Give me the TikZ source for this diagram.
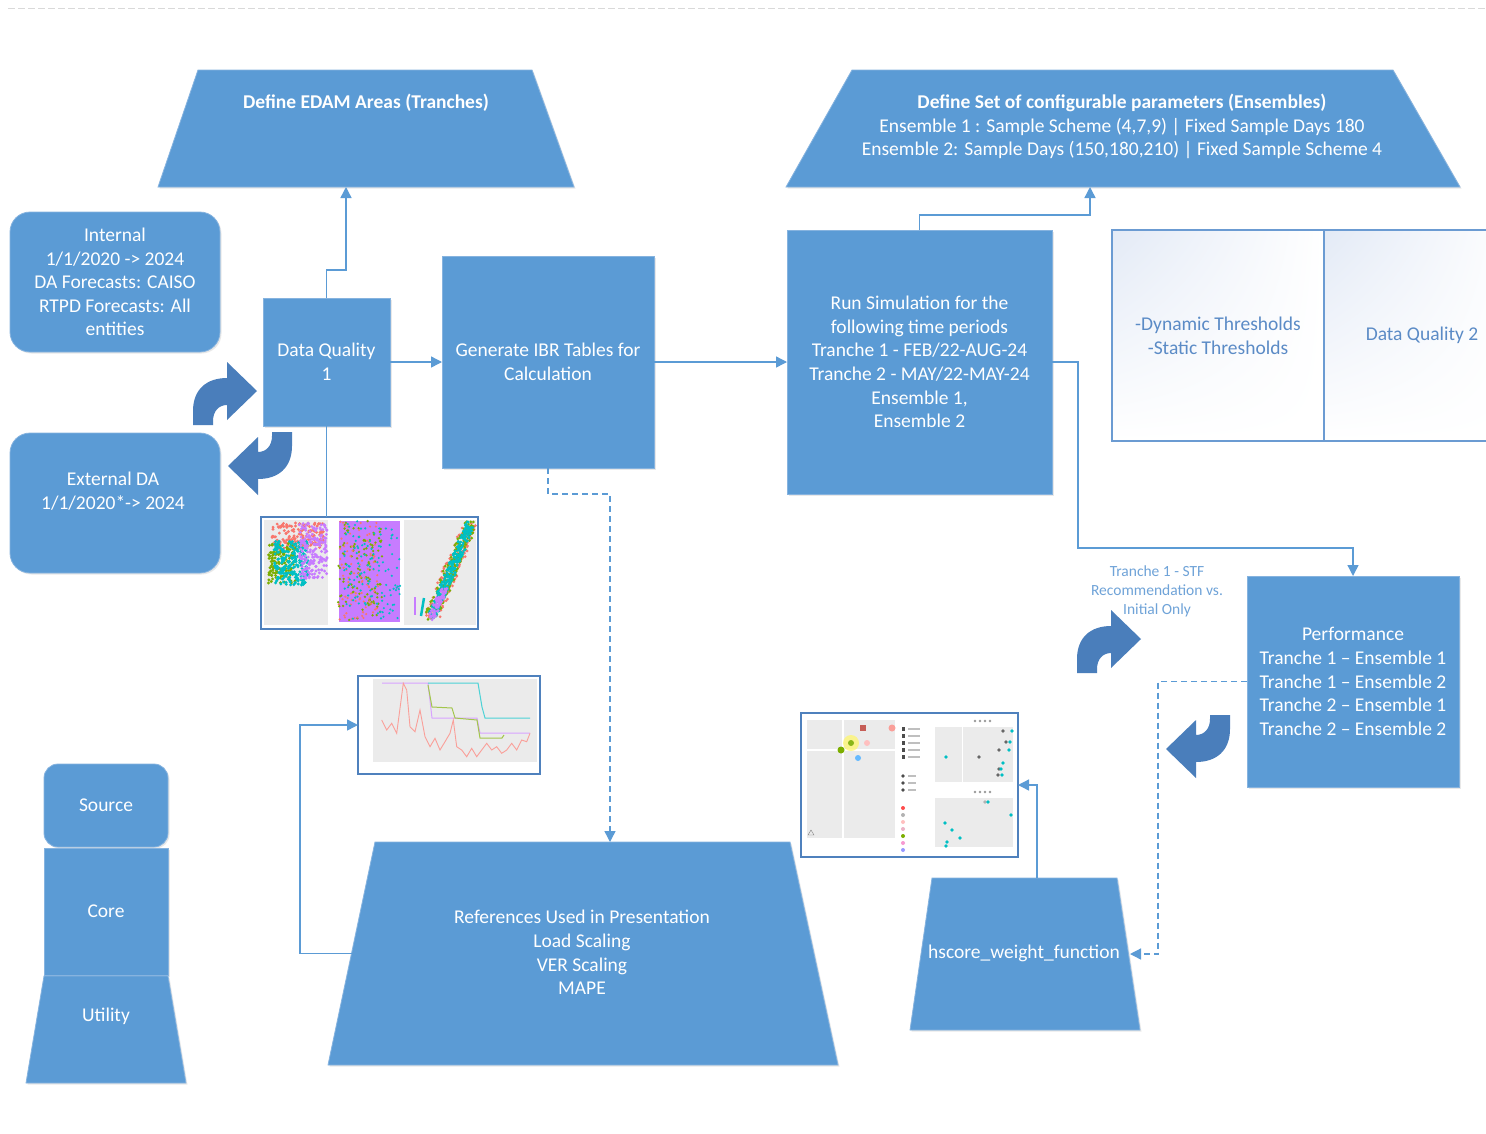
\documentclass[tikz,border=0pt]{standalone}
\usepackage{fontspec}
\setmainfont{Carlito}
\usetikzlibrary{arrows.meta,shadows,shadings}
\definecolor{boxblue}{HTML}{5B9BD5}
\definecolor{boxedge}{HTML}{86B3DF}
\definecolor{curv}{HTML}{4A7EBB}
\definecolor{linec}{HTML}{5B9BD5}
\definecolor{frm}{HTML}{4F81BD}
\definecolor{dqtext}{HTML}{5B8BC6}
\definecolor{dqedge}{HTML}{6B9BD2}
\definecolor{lbltext}{HTML}{6FA3D8}
\definecolor{gradc}{HTML}{E3EAF6}
\definecolor{panelgray}{HTML}{EBEBEB}
\definecolor{sred}{HTML}{F8766D}
\definecolor{sgreen}{HTML}{7CAE00}
\definecolor{scyan}{HTML}{00BFC4}
\definecolor{spurple}{HTML}{C77CFF}
\begin{document}
\begin{tikzpicture}[x=1pt,y=-1pt,
  every node/.style={inner sep=0pt, outer sep=0pt},
  bfont/.style={font=\fontsize{19.5}{23.6}\selectfont},
  shd/.style={drop shadow={opacity=0.18, shadow xshift=1.5pt, shadow yshift=-1.5pt}},
  bluebox/.style={fill=boxblue, draw=boxedge, line width=0.8pt, text=white, bfont, align=center, shd},
  trapfill/.style={fill=boxblue, draw=boxedge, line width=0.8pt, shd},
  txt/.style={text=white, bfont, align=center},
  conn/.style={draw=linec, line width=1.4pt},
  arr/.style={conn, -{Triangle[length=11pt,width=11pt]}},
  dsh/.style={dash pattern=on 6pt off 4pt},
  imgframe/.style={draw=frm, line width=2.5pt, fill=white},
  dqbox/.style={draw=dqedge, line width=1.4pt, text=dqtext, bfont, align=center},
  curvarr/.pic={\fill[curv] (0,0) -- (0,-14) .. controls (0,-36) and (14,-47) .. (34,-47) -- (34,-63) -- (64,-34) -- (34,-5) -- (34,-20) .. controls (26,-20) and (20,-14) .. (20,-4) -- (20,0) -- cycle;}
]
\useasboundingbox (0,0) rectangle (1486,1133);
\fill[white] (0,0) rectangle (1486,1133);
\draw[black!15, line width=1pt, dash pattern=on 7pt off 3pt] (8,8) -- (1486,8);

% ---- top trapezia
\node[minimum width=416pt, minimum height=117pt] (edam) at (366,128.5) {};
\fill[trapfill] (edam.south west) -- ([xshift=40pt]edam.north west) -- ([xshift=-42pt]edam.north east) -- (edam.south east) -- cycle;
\node[txt, font=\fontsize{19.5}{23.6}\selectfont\bfseries] (edamtxt) at (366,103) {Define EDAM Areas (Tranches)};
\node[minimum width=674pt, minimum height=117pt] (ens) at (1123,128.5) {};
\fill[trapfill] (ens.south west) -- ([xshift=66pt]ens.north west) -- ([xshift=-67pt]ens.north east) -- (ens.south east) -- cycle;
\node[txt] (enstxt) at (1122,126.5) {\textbf{Define Set of configurable parameters (Ensembles)}\\Ensemble 1 : Sample Scheme (4,7,9) | Fixed Sample Days 180\\Ensemble 2: Sample Days (150,180,210) | Fixed Sample Scheme 4};

% ---- left boxes
\node[bluebox, rounded corners=20pt, minimum width=210pt, minimum height=140pt] (internal) at (115,282) {Internal\\1/1/2020 -> 2024\\DA Forecasts: CAISO\\RTPD Forecasts: All\\entities};
\node[bluebox, rounded corners=20pt, minimum width=210pt, minimum height=140pt] (external) at (115,503) {};
\node[txt] (exttxt) at (113,491) {External DA\\1/1/2020*-> 2024};

\node[bluebox, minimum width=127pt, minimum height=128pt] (dq1) at (326.5,362) {Data Quality\\1};
\node[bluebox, minimum width=212pt, minimum height=212pt] (gen) at (548,362) {Generate IBR Tables for\\Calculation};
\node[bluebox, minimum width=265pt, minimum height=264pt] (run) at (919.5,362) {Run Simulation for the\\following time periods\\Tranche 1 - FEB/22-AUG-24\\Tranche 2 - MAY/22-MAY-24\\Ensemble 1,\\Ensemble 2};

% ---- data quality 2 box
\shade[upper left=gradc, upper right=white, lower left=white, lower right=white] (1112,230) rectangle (1324,441);
\shade[upper left=gradc, upper right=white, lower left=white, lower right=white] (1324,230) rectangle (1520,441);
\node[dqbox, minimum width=212pt, minimum height=211pt] (thr) at (1218,335.5) {-Dynamic Thresholds\\-Static Thresholds};
\node[dqbox, minimum width=196pt, minimum height=211pt, anchor=west] (dq2) at (thr.east) {Data Quality 2};

% ---- performance
\node[bluebox, minimum width=212pt, minimum height=211pt] (perf) at (1353,681.5) {Performance\\Tranche 1 -- Ensemble 1\\Tranche 1 -- Ensemble 2\\Tranche 2 -- Ensemble 1\\Tranche 2 -- Ensemble 2};

% ---- bottom trapezia
\node[minimum width=510pt, minimum height=223pt] (refs) at (583,953.5) {};
\fill[trapfill] (refs.south west) -- ([xshift=47pt]refs.north west) -- ([xshift=-48pt]refs.north east) -- (refs.south east) -- cycle;
\node[txt] (refstxt) at (582,952.5) {References Used in Presentation\\Load Scaling\\VER Scaling\\MAPE};
\node[minimum width=230pt, minimum height=152pt] (hscore) at (1025,954) {};
\fill[trapfill] (hscore.south west) -- ([xshift=22pt]hscore.north west) -- ([xshift=-23pt]hscore.north east) -- (hscore.south east) -- cycle;
\node[txt] (hstxt) at (1024,953) {hscore\_weight\_function};

% ---- legend stack
\node[bluebox, rounded corners=14pt, minimum width=124pt, minimum height=83pt] (source) at (106,805.5) {Source};
\node[bluebox, minimum width=124pt, minimum height=127pt] (core) at (106,911.5) {Core};
\node[minimum width=160pt, minimum height=107pt] (utility) at (106,1029.5) {};
\fill[trapfill] (utility.south west) -- ([xshift=18pt]utility.north west) -- ([xshift=-18pt]utility.north east) -- (utility.south east) -- cycle;
\node[txt] (utiltxt) at (106,1016) {Utility};

% ---- image 1 (scatter panels)
\node[imgframe, minimum width=217pt, minimum height=112pt] (img1) at (369.5,573) {};
\fill[panelgray] (264,520) rectangle (328,625);
\fill[panelgray] (404,520) rectangle (476,625);
\pgfmathsetseed{11}
\foreach \i in {1,...,160}{\fill[sred] ({298+26*rand},{536+13*rand}) circle (1.6);}
\foreach \i in {1,...,140}{\fill[sgreen] ({282+14*rand},{563+20*rand}) circle (1.6);}
\foreach \i in {1,...,220}{\fill[scyan] ({291+17*rand},{563+22*rand}) circle (1.6);}
\foreach \i in {1,...,200}{\fill[spurple] ({313+14*rand},{551+28*rand}) circle (1.6);}
\fill[spurple] (339,521) rectangle (400,622);
\foreach \i in {1,...,110}{\fill[sgreen] ({360+22*rand},{571+50*rand}) circle (1.3);}
\foreach \i in {1,...,90}{\fill[sred] ({358+20*rand},{571+50*rand}) circle (1.2);}
\foreach \i in {1,...,120}{\fill[scyan] ({372+28*rand},{571+50*rand}) circle (1.2);}
\foreach \i in {1,...,160}{\pgfmathsetmacro\tt{rnd}\fill[sred] ({431+40*\tt+8*rand},{617-94*\tt+3*rand}) circle (1.5);}
\foreach \i in {1,...,200}{\pgfmathsetmacro\tt{rnd}\fill[sgreen] ({431+40*\tt+6.5*rand},{617-94*\tt+3*rand}) circle (1.5);}
\foreach \i in {1,...,300}{\pgfmathsetmacro\tt{rnd}\fill[scyan] ({432+39*\tt+4.5*rand},{616-93*\tt+3*rand}) circle (1.5);}
\foreach \i in {1,...,90}{\pgfmathsetmacro\tt{rnd}\fill[spurple] ({431+13*\tt+3.5*rand},{618-30*\tt+2*rand}) circle (1.5);}
\draw[spurple, line width=2.5pt] (415,597) -- (415,615);
\draw[scyan, line width=2.5pt] (424,598) -- (421,616);

% ---- image 2 (line chart)
\node[imgframe, minimum width=182pt, minimum height=98pt] (img2) at (449,725) {};
\fill[panelgray] (373,679) rectangle (537,762);
\draw[spurple!70, line width=1pt] (382,683) -- (428,683) -- (432,718) -- (477,718) -- (480,733) -- (530,733);
\draw[scyan!70, line width=1pt] (428,683) -- (478,683) -- (482,707) -- (485,718) -- (530,718);
\draw[sgreen!70, line width=1pt] (428,685) -- (432,707) -- (452,708) -- (455,718) -- (477,720) -- (480,738) -- (502,738) -- (504,735);
\draw[sred!70, line width=0.9pt] (381.7,720) -- (386.7,730) -- (391.7,723.3) -- (396.7,733.3) -- (403.3,683.3) -- (406.7,690) -- (410,726.7) -- (415,731.7) -- (420,710) -- (425,736.7) -- (430,746.7) -- (435,738.3) -- (440,750) -- (445,741.7) -- (450,733.3) -- (453.3,720) -- (456.7,746.7) -- (461.7,750) -- (466.7,756.7) -- (471.7,748.3) -- (476.7,756.7) -- (481.7,750) -- (486.7,743.3) -- (491.7,750) -- (496.7,746.7) -- (501.7,753.3) -- (506.7,750) -- (511.7,743.3) -- (516.7,750) -- (521.7,740) -- (526.7,741.7) -- (530,733.3);

% ---- image 3 (bubble chart)
\node[imgframe, minimum width=217pt, minimum height=144pt] (img3) at (909.5,785) {};
\fill[panelgray] (807,720) rectangle (895,838);
\draw[white, line width=1.2pt] (843,720) -- (843,838) (807,750) -- (895,750);
\fill[sred!80!black] (860,725) rectangle (866,731);
\fill[sred!70] (892,728) circle (3.5);
\fill[yellow!60, opacity=0.7] (851,743) circle (8);
\fill[sgreen!90] (851,743) circle (3);
\fill[pink] (867,743) circle (3);
\fill[sgreen] (841,750) circle (3.5);
\fill[blue!45!cyan!60] (858,758) circle (3);
\draw[gray] (808,835) -- (811,830) -- (814,835) -- cycle;
\foreach \yy in {729,736,743,750,757}{\fill[black!70] (902,\yy-2) rectangle (905,\yy+2); \fill[black!25] (908,\yy-1) rectangle (920,\yy+1);}
\foreach \yy in {776,783,790}{\fill[black!70] (903,\yy) circle (1.8); \fill[black!25] (908,\yy-1) rectangle (916,\yy+1);}
\foreach \yy/\cc in {812/red!70, 819/gray!60, 826/pink, 833/purple!30, 840/sgreen, 847/magenta!40, 854/blue!40}{\fill[\cc] (903,\yy-4) circle (2);}
\fill[panelgray] (935,727) rectangle (1013,782);
\fill[panelgray] (935,798) rectangle (1013,847);
\draw[white, line width=1pt] (962,727) -- (962,782);
\foreach \px/\py/\cc in {1003/731/black!60, 1012/731/scyan, 1006/742/black!60, 1010/742/scyan, 999/750/black!60, 1009/750/scyan, 946/757/scyan, 979/757/black!60, 1003/763/scyan, 999/769/black!60, 1001/769/scyan, 998/775/black!60, 1002/775/scyan, 985/802/black!30, 988/802/scyan, 1011/815/scyan, 945/823/scyan, 952/830/scyan, 960/838/scyan, 947/842/scyan, 946/846/scyan}{\fill[\cc] (\px,\py) circle (1.8);}
\foreach \px in {975,980,985,990}{\fill[black!40] (\px,721) circle (1.3); \fill[black!40] (\px,792) circle (1.3);}

% ---- curved arrows
\pic at (193,425) {curvarr};
\pic[rotate=180] at (292,432) {curvarr};
\pic at (1077,673) {curvarr};
\pic[rotate=180] at (1230,715) {curvarr};

% ---- label
\node[font=\fontsize{15.5}{19}\selectfont, text=lbltext, align=center] (lbl) at (1157,591) {Tranche 1 - STF\\Recommendation vs.\\Initial Only};

% ---- connectors
\draw[arr] (dq1.north) -- ++(0,-28) -| ([xshift=-20pt]edam.south);
\draw[conn] (dq1.south) -- (dq1.south |- img1.north);
\draw[arr] (dq1.east) -- (gen.west);
\draw[arr] (gen.east) -- (run.west);
\draw[arr] (run.north) -- ++(0,-15) -| ([xshift=-33pt]ens.south);
\draw[arr] (run.east) -- ++(26,0) -- ++(0,186) -| (perf.north);
\draw[arr, dsh] (gen.south) -- ++(0,26) -| ([xshift=27pt]refs.north);
\draw[arr] ([xshift=24pt]refs.west) -- ++(-52,0) |- (img2.west);
\draw[arr] ([xshift=12pt]hscore.north) |- (img3.east);
\draw[arr, dsh] (perf.west) -- ++(-89,0) |- ([xshift=-10pt]hscore.east);
\end{tikzpicture}
\end{document}
